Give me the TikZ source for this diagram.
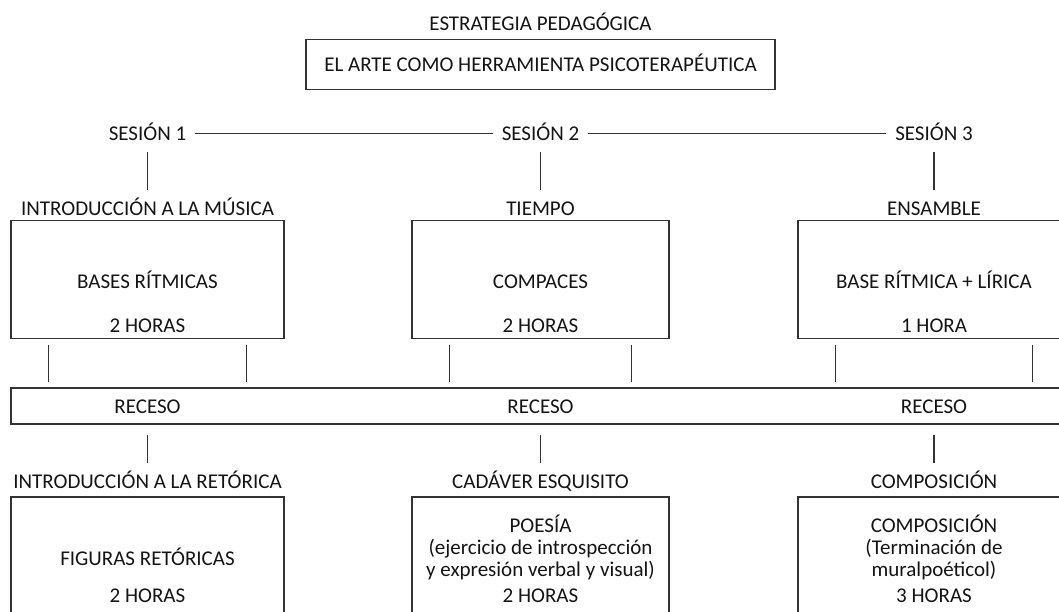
\documentclass[tikz,border=0pt]{standalone}
\usepackage{fontspec}
\setmainfont{Carlito}
\definecolor{ln}{HTML}{333333}
\definecolor{tx}{HTML}{141414}
\begin{document}
\begin{tikzpicture}[x=1pt,y=-1pt,
  every node/.style={text=tx, font=\fontsize{21}{22.3}\selectfont},
  txt/.style={anchor=base, inner sep=0pt},
  lbl/.style={anchor=base, text height=14pt, text depth=0pt, inner xsep=9pt, inner ysep=11.3pt},
  box/.style={draw=ln, line width=1.4pt, rectangle, inner sep=0pt},
  con/.style={draw=ln, line width=1.2pt}]
\useasboundingbox (0,0) rectangle (1059,611);
\clip (0,0) rectangle (1059,611);

% header
\node[txt] (hdr) at (540.5,30) {ESTRATEGIA PEDAGÓGICA};
\node[box, text height=14pt, text depth=0pt, minimum width=469pt, minimum height=50pt] (top) at (540.5,64.2) {EL ARTE COMO HERRAMIENTA PSICOTERAPÉUTICA};

% sessions
\node[lbl] (s1) at (147.5,140.7) {SESIÓN 1};
\node[lbl] (s2) at (540.5,140.7) {SESIÓN 2};
\node[lbl] (s3) at (934,140.7) {SESIÓN 3};
\draw[con] (s1) -- (s2);
\draw[con] (s2) -- (s3);

% row 1 titles
\node[lbl] (t1) at (147.5,215) {INTRODUCCIÓN A LA MÚSICA};
\node[lbl] (t2) at (540.5,215) {TIEMPO};
\node[lbl] (t3) at (934,215) {ENSAMBLE};
\draw[con] (s1) -- (t1);
\draw[con] (s2) -- (t2);
\draw[con] (s3) -- (t3);

% row 1 boxes
\node[box, minimum width=273pt, minimum height=118pt] (b1) at (147.5,279.5) {};
\node[box, minimum width=257pt, minimum height=118pt] (b2) at (540.5,279.5) {};
\node[box, minimum width=272pt, minimum height=118pt] (b3) at (934,279.5) {};
\node[txt] (b1a) at (147.5,288) {BASES RÍTMICAS};
\node[txt] (b1b) at (147.5,332) {2 HORAS};
\node[txt] (b2a) at (540.5,288) {COMPACES};
\node[txt] (b2b) at (540.5,332) {2 HORAS};
\node[txt] (b3a) at (934,288) {BASE RÍTMICA + LÍRICA};
\node[txt] (b3b) at (934,332) {1 HORA};

% recess bar
\node[box, minimum width=1059pt, minimum height=36pt] (bar) at (540.5,406) {};
\node[txt] (rc1) at (147.5,413.5) {RECESO};
\node[txt] (rc2) at (540.5,413.5) {RECESO};
\node[txt] (rc3) at (934,413.5) {RECESO};

% box-to-bar connectors
\foreach \b in {b1,b2,b3}{
  \draw[con, shorten <=6pt, shorten >=5pt] ([xshift=38pt]\b.south west) -- ([xshift=38pt]\b.south west |- bar.north);
  \draw[con, shorten <=6pt, shorten >=5pt] ([xshift=-38pt]\b.south east) -- ([xshift=-38pt]\b.south east |- bar.north);
}

% row 2 titles
\node[lbl] (u1) at (147.5,488) {INTRODUCCIÓN A LA RETÓRICA};
\node[lbl] (u2) at (540.5,488) {CADÁVER ESQUISITO};
\node[lbl] (u3) at (934,488) {COMPOSICIÓN};
\draw[con, shorten <=10pt] (bar.south -| u1) -- (u1.north);
\draw[con, shorten <=10pt] (bar.south -| u2) -- (u2.north);
\draw[con, shorten <=10pt] (bar.south -| u3) -- (u3.north);

% row 2 boxes
\node[box, minimum width=273pt, minimum height=163pt] (c1) at (147.5,578.5) {};
\node[box, minimum width=257pt, minimum height=163pt] (c2) at (540.5,578.5) {};
\node[box, minimum width=272pt, minimum height=163pt] (c3) at (934,578.5) {};

\node[txt] (c1a) at (147.5,565) {FIGURAS RETÓRICAS};
\node[txt] (c1b) at (147.5,602.5) {2 HORAS};

\node[txt] (c2a) at (540.5,532.5) {POESÍA};
\node[txt] (c2b) at (540.5,554.5) {(ejercicio de introspección};
\node[txt] (c2c) at (540.5,576.5) {y expresión verbal y visual)};
\node[txt] (c2d) at (540.5,602.5) {2 HORAS};

\node[txt] (c3a) at (934,532.5) {COMPOSICIÓN};
\node[txt] (c3b) at (934,554.5) {(Terminación de};
\node[txt] (c3c) at (934,576.5) {muralpoéticol)};
\node[txt] (c3d) at (934,602.5) {3 HORAS};
\end{tikzpicture}
\end{document}
